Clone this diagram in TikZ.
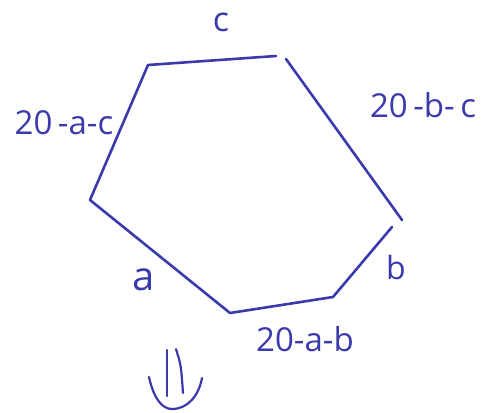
\documentclass[tikz,border=0pt]{standalone}
\usepackage{fontspec}
\setmainfont{Open Sans}
\definecolor{ink}{RGB}{58,58,172}
\begin{document}
\begin{tikzpicture}[x=1pt,y=-1pt,
  pen/.style={draw=ink,line width=2.6pt,line cap=round,line join=round},
  lbl/.style={text=ink,inner sep=0pt},
  slbl/.style={text=ink,font=\fontsize{33}{36}\selectfont,inner sep=0pt}]
\useasboundingbox (0,0) rectangle (486,412);
\coordinate (tl) at (148,65);
\coordinate (tr) at (276,56);
\coordinate (r1) at (286,59);
\coordinate (r2) at (402,220);
\coordinate (b1) at (392,227);
\coordinate (b2) at (333,297);
\coordinate (bm) at (230,313);
\coordinate (l) at (90,200);
\draw[pen] (tl) -- (tr);
\draw[pen] (r1) -- (r2);
\draw[pen] (b1) -- (b2) -- (bm) -- (l) -- (tl);
\node[lbl,font=\fontsize{34}{38}\selectfont] (c) at (221,22) {c};
\node[slbl] (ac) at (64,123) {20\,-a-c};
\node[slbl] (bc) at (423,105) {20\,-b-\,c};
\node[lbl,font=\fontsize{40}{44}\selectfont] (a) at (144,280) {a};
\node[lbl,font=\fontsize{32}{36}\selectfont] (b) at (396,267) {b};
\node[slbl] (ab) at (305,339) {20-a-b};
\coordinate (d1) at (167,350);
\coordinate (d2) at (167,396);
\coordinate (d3) at (176,349);
\coordinate (d4) at (183,393);
\coordinate (u1) at (149,377);
\coordinate (u2) at (172,409);
\coordinate (u3) at (202,378);
\draw[pen,line width=2.2pt] (d1) -- (d2);
\draw[pen,line width=2.2pt] (d3) .. controls (181,365) .. (d4);
\draw[pen,line width=2.2pt] (u1) .. controls (154,400) and (163,409) .. (u2) .. controls (188,409) and (199,395) .. (u3);
\end{tikzpicture}
\end{document}
